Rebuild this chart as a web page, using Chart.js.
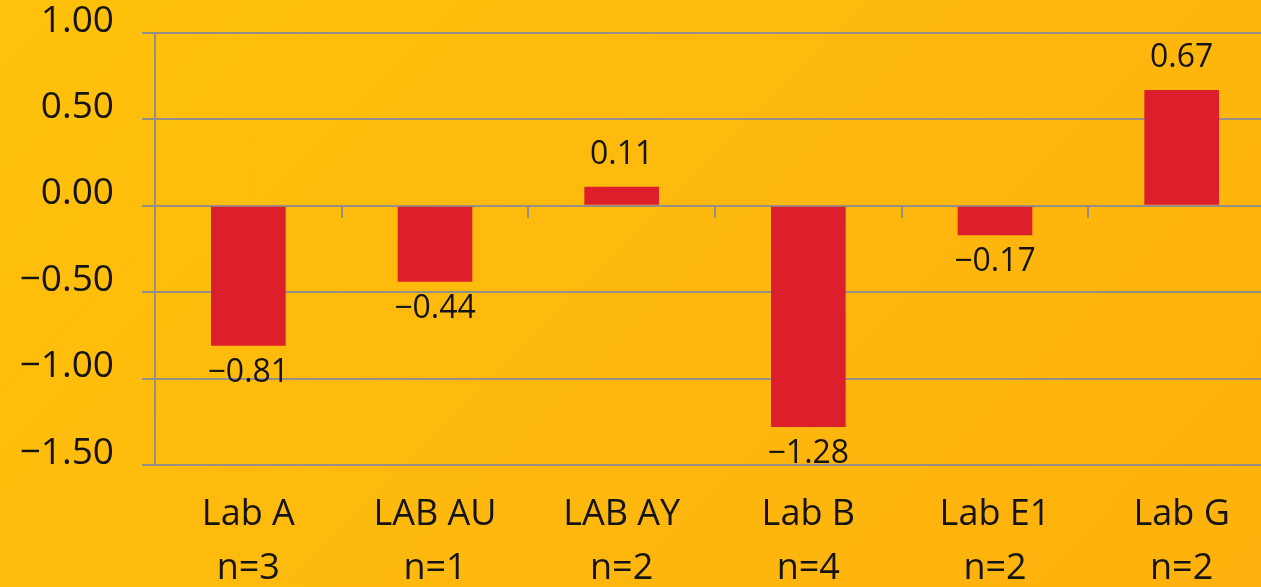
<!DOCTYPE html>
<html>
<head>
<meta charset="utf-8">
<script src="https://cdn.jsdelivr.net/npm/chart.js@4/dist/chart.umd.min.js"></script>
<style>
  html, body { margin: 0; padding: 0; overflow: hidden; }
  body {
    width: 1261px; height: 587px;
    background: linear-gradient(135deg, #ffc10a 0%, #feb80e 55%, #feb10c 100%);
  }
  #wrap { width: 1275px; height: 587px; }
</style>
</head>
<body>
<div id="wrap"><canvas id="c" width="1275" height="587"></canvas></div>
<script>
// Lab names and sample counts shown under each bar
const labs = ['Lab A', 'LAB AU', 'LAB AY', 'Lab B', 'Lab E1', 'Lab G'];
const sampleCounts = [3, 1, 2, 4, 2, 2];
// Mean deviation per lab
const deviations = [-0.81, -0.44, 0.11, -1.28, -0.17, 0.67];
// Value axis range and step
const yMin = -1.5;
const yMax = 1.0;
const yStep = 0.5;

const FONT = '"Open Sans", "Noto Sans", sans-serif';
const GRID = '#958f86';
const TEXT = '#141414';
const BAR = '#dc1f2b';

const fmt = (v, d) => (v < 0 ? '\u2212' : '') + Math.abs(v).toFixed(d);

const categoryLabels = labs.map((name, i) => [name, 'n=' + sampleCounts[i]]);

// Writes each bar's value just beyond its end
const valueLabels = {
  id: 'valueLabels',
  afterDatasetsDraw(chart) {
    const ctx = chart.ctx;
    const meta = chart.getDatasetMeta(0);
    ctx.save();
    ctx.font = '32px ' + FONT;
    ctx.fillStyle = TEXT;
    ctx.textAlign = 'center';
    ctx.textBaseline = 'alphabetic';
    meta.data.forEach((bar, i) => {
      const v = deviations[i];
      const y = v >= 0 ? bar.y - 23 : bar.y + 36;
      ctx.fillText(fmt(v, 2), bar.x, y);
    });
    ctx.restore();
  }
};

new Chart(document.getElementById('c'), {
  type: 'bar',
  data: {
    labels: categoryLabels,
    datasets: [{
      data: deviations,
      backgroundColor: BAR,
      borderWidth: 0,
      barPercentage: 0.4,
      categoryPercentage: 1.0
    }]
  },
  options: {
    responsive: false,
    animation: false,
    devicePixelRatio: 1,
    layout: { padding: { top: 33, left: 0, right: 0, bottom: 0 } },
    plugins: {
      legend: { display: false },
      tooltip: { enabled: false }
    },
    scales: {
      x: {
        position: 'bottom',
        offset: true,
        grid: { display: false, drawTicks: false },
        border: { display: false },
        ticks: {
          color: TEXT,
          padding: 23,
          maxRotation: 0,
          autoSkip: false,
          font: { family: FONT, size: 36, lineHeight: 1.5 }
        },
        afterFit(scale) { scale.height = 122; }
      },
      // tick marks between categories along the zero line
      x2: {
        axis: 'x',
        type: 'category',
        position: { y: 0 },
        offset: true,
        grid: {
          offset: true,
          drawOnChartArea: false,
          drawTicks: true,
          tickLength: 12,
          color: GRID,
          lineWidth: 2
        },
        border: { display: false },
        ticks: { display: false },
        afterFit(scale) {
          scale.paddingTop = 0; scale.paddingBottom = 0;
          scale.paddingLeft = 0; scale.paddingRight = 0;
        }
      },
      y: {
        min: yMin,
        max: yMax,
        ticks: {
          stepSize: yStep,
          color: TEXT,
          padding: 28,
          font: { family: FONT, size: 37, lineHeight: '24px' },
          callback: (v) => [fmt(v, 2), '']
        },
        grid: {
          color: GRID,
          lineWidth: 2,
          drawTicks: true,
          tickLength: 13
        },
        border: { display: true, color: GRID, width: 2 },
        afterFit(scale) {
          scale.width = 155;
          scale.paddingTop = 0;
          scale.paddingBottom = 0;
        }
      }
    }
  },
  plugins: [valueLabels]
});
</script>
</body>
</html>
